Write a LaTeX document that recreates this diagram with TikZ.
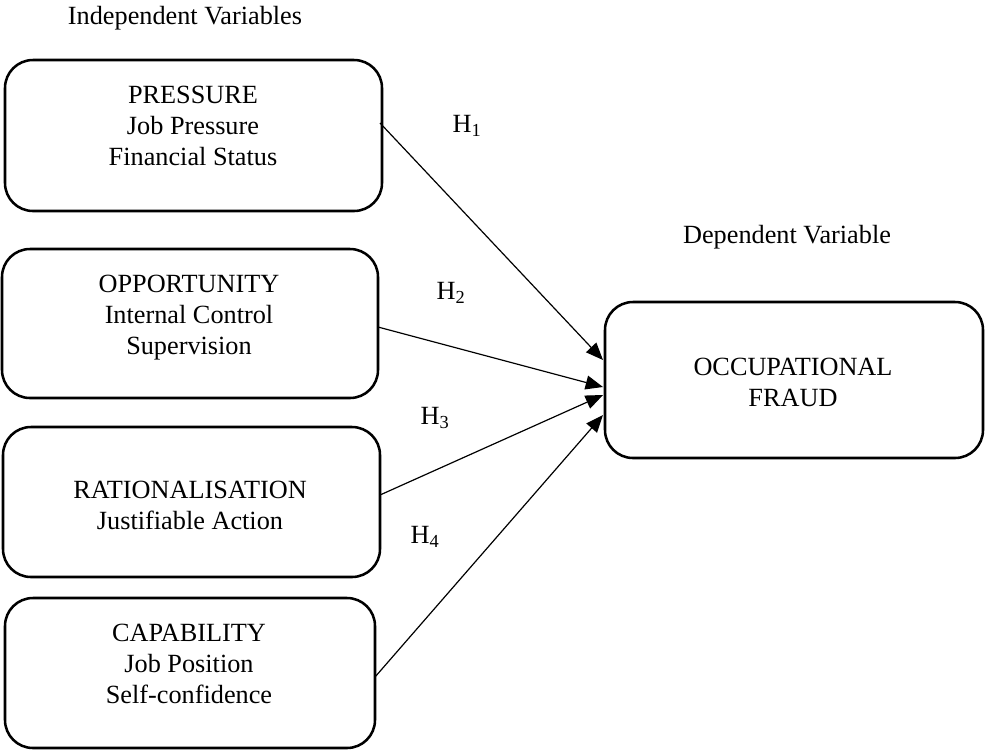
\documentclass[tikz,border=0pt]{standalone}
\usepackage{fontspec}
\setmainfont{Liberation Serif}
\usetikzlibrary{arrows.meta,calc}
\begin{document}
\begin{tikzpicture}[x=0.75pt,y=-0.75pt,
  box/.style={draw, line width=1.9pt, rounded corners=21pt, inner sep=0pt, outer sep=0pt},
  txt/.style={align=center, inner sep=0pt, font=\fontsize{19.7}{23.25}\selectfont},
  lbl/.style={inner sep=0pt, anchor=base, font=\fontsize{19.7}{23.25}\selectfont},
  arr/.style={line width=0.9pt, -{Triangle[length=13pt,width=10.5pt]}}]
\useasboundingbox (0,0) rectangle (985,751);

% boxes
\node[box, minimum width=282.75pt, minimum height=113.25pt] (p) at (193.5,135.5) {};
\node[box, minimum width=282pt, minimum height=111.75pt] (o) at (190,323.5) {};
\node[box, minimum width=282.75pt, minimum height=112.5pt] (r) at (191.5,502) {};
\node[box, minimum width=277.5pt, minimum height=112.5pt] (c) at (190,673) {};
\node[box, minimum width=283.5pt, minimum height=117pt] (f) at (794,380) {};

% box texts
\node[txt] (pt) at (193,126) {PRESSURE\\Job Pressure\\Financial Status};
\node[txt] (ot) at (189,317.5) {OPPORTUNITY\\Internal Control\\Supervision};
\node[txt] (rt) at (190,505.5) {RATIONALISATION\\Justifiable Action};
\node[txt] (ct) at (189,664) {CAPABILITY\\Job Position\\Self-confidence};
\node[txt] (ft) at (793,382) {OCCUPATIONAL\\FRAUD};

% headings
\node[lbl] (iv) at (185,24) {Independent Variables};
\node[lbl] (dv) at (787,243) {Dependent Variable};

% hypothesis labels
\node[lbl] (h1) at (467,132) {H\textsubscript{1}};
\node[lbl] (h2) at (451,299) {H\textsubscript{2}};
\node[lbl] (h3) at (435,424) {H\textsubscript{3}};
\node[lbl] (h4) at (425,543) {H\textsubscript{4}};

% arrows
\draw[arr] ($(p.north east)+(-2,63)$) -- ($(f.north west)+(-2,58)$);
\draw[arr] ($(o.north east)+(0,78)$) -- ($(f.north west)+(-2,85)$);
\draw[arr] ($(r.north east)+(0,68)$) -- ($(f.north west)+(-2,93)$);
\draw[arr] ($(c.north east)+(0,79)$) -- ($(f.north west)+(-2,113)$);
\end{tikzpicture}
\end{document}
